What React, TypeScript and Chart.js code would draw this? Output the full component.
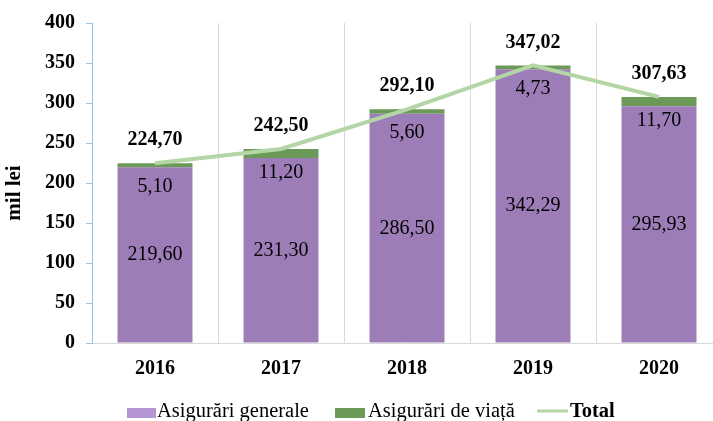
import React, { useEffect, useRef } from "react";
import { Chart, registerables } from "chart.js";

Chart.register(...registerables);

const categories = ["2016", "2017", "2018", "2019", "2020"];
const generale = [219.6, 231.3, 286.5, 342.29, 295.93];
const viata = [5.1, 11.2, 5.6, 4.73, 11.7];
const total = [224.7, 242.5, 292.1, 347.02, 307.63];
const yTicks = [0, 50, 100, 150, 200, 250, 300, 350, 400];

const seriesNames = ["Asigurări generale", "Asigurări de viață", "Total"];

const PURPLE = "#9d7db7";
const GREEN = "#6b9a58";
const LINE = "#b4d5a5";
const FONT = "\"Liberation Serif\", \"Times New Roman\", Times, serif";

const fmt = (v: number) => v.toFixed(2).replace(".", ",");

const labelsPlugin = {
  id: "customLabels",
  afterDatasetsDraw(chart: any) {
    const ctx = chart.ctx;
    const y = chart.scales.y;
    const metaG = chart.getDatasetMeta(1);
    ctx.save();
    ctx.textAlign = "center";
    ctx.textBaseline = "middle";
    ctx.fillStyle = "#000";
    categories.forEach((_, i) => {
      const x = metaG.data[i].x;
      ctx.font = `normal 400 20px ${FONT}`;
      ctx.fillText(fmt(generale[i]), x, y.getPixelForValue(generale[i] / 2));
      const top = y.getPixelForValue(total[i]);
      ctx.fillText(fmt(viata[i]), x, top + 23.5);
      ctx.font = `bold 20px ${FONT}`;
      ctx.fillText(fmt(total[i]), x, top - 23);
    });
    ctx.restore();
  },
  afterDraw(chart: any) {
    const ctx = chart.ctx;
    ctx.save();
    ctx.fillStyle = "#000";
    ctx.font = `bold 21px ${FONT}`;
    ctx.textAlign = "center";
    ctx.textBaseline = "middle";
    ctx.translate(15, 193);
    ctx.rotate(-Math.PI / 2);
    ctx.fillText("mil lei", 0, 0);
    ctx.restore();

    ctx.save();
    const ly = 411.5;
    ctx.textBaseline = "middle";
    ctx.textAlign = "left";
    ctx.fillStyle = "#b497d2";
    ctx.fillRect(127, 408, 29, 10);
    ctx.fillStyle = "#000";
    ctx.font = `normal 400 20.5px ${FONT}`;
    ctx.fillText(seriesNames[0], 157, ly);
    ctx.fillStyle = GREEN;
    ctx.fillRect(335, 408, 30, 10);
    ctx.fillStyle = "#000";
    ctx.fillText(seriesNames[1], 368, ly);
    ctx.strokeStyle = LINE;
    ctx.lineWidth = 3;
    ctx.beginPath();
    ctx.moveTo(537, 411);
    ctx.lineTo(568, 411);
    ctx.stroke();
    ctx.font = `bold 20.5px ${FONT}`;
    ctx.fillText(seriesNames[2], 570, ly);
    ctx.restore();
  },
};

export default function App() {
  const ref = useRef<HTMLCanvasElement>(null);
  useEffect(() => {
    document.body.style.margin = "0";
    document.body.style.overflow = "hidden";
    const chart = new Chart(ref.current!, {
      type: "bar",
      data: {
        labels: categories,
        datasets: [
          {
            type: "line" as any,
            label: seriesNames[2],
            data: total,
            borderColor: LINE,
            borderWidth: 4,
            pointRadius: 0,
            tension: 0,
            stack: "line",
            order: 0,
          } as any,
          {
            label: seriesNames[0],
            data: generale,
            backgroundColor: PURPLE,
            stack: "s",
            order: 1,
            categoryPercentage: 1,
            barPercentage: 0.595,
          },
          {
            label: seriesNames[1],
            data: viata,
            backgroundColor: GREEN,
            stack: "s",
            order: 1,
            categoryPercentage: 1,
            barPercentage: 0.595,
          },
        ],
      },
      options: {
        animation: false,
        responsive: false,
        maintainAspectRatio: false,
        layout: { padding: { top: 23, left: 0, right: 0, bottom: 0 } },
        plugins: {
          legend: { display: false },
          tooltip: { enabled: false },
        },
        scales: {
          x: {
            stacked: true,
            grid: {
              display: true,
              color: "#d9d9d9",
              drawTicks: false,
              offset: true,
            },
            border: { display: true, color: "#d9d9d9" },
            ticks: {
              color: "#000",
              font: { family: FONT, size: 20, weight: "bold" },
              padding: 14,
            },
            afterFit: (s: any) => {
              s.height = 78;
            },
          },
          y: {
            stacked: true,
            min: 0,
            max: 400,
            afterBuildTicks: (s: any) => {
              s.ticks = yTicks.map((v) => ({ value: v }));
            },
            grid: {
              drawOnChartArea: false,
              drawTicks: true,
              tickLength: 6,
              color: "#9dc3e6",
            },
            border: { display: true, color: "#9dc3e6" },
            ticks: {
              color: "#000",
              font: { family: FONT, size: 20, weight: "bold" },
              padding: 11,
            },
            afterFit: (s: any) => {
              s.width = 92;
            },
          },
        },
      },
      plugins: [labelsPlugin],
    });
    return () => {
      chart.destroy();
    };
  }, []);
  return (
    <div style={{ position: "fixed", left: 0, top: 0, width: 713, height: 421, overflow: "hidden", background: "#fff" }}>
      <canvas ref={ref} width={722} height={421} style={{ position: "absolute", left: 0, top: 0, display: "block", width: 722, height: 421 }} />
    </div>
  );
}
